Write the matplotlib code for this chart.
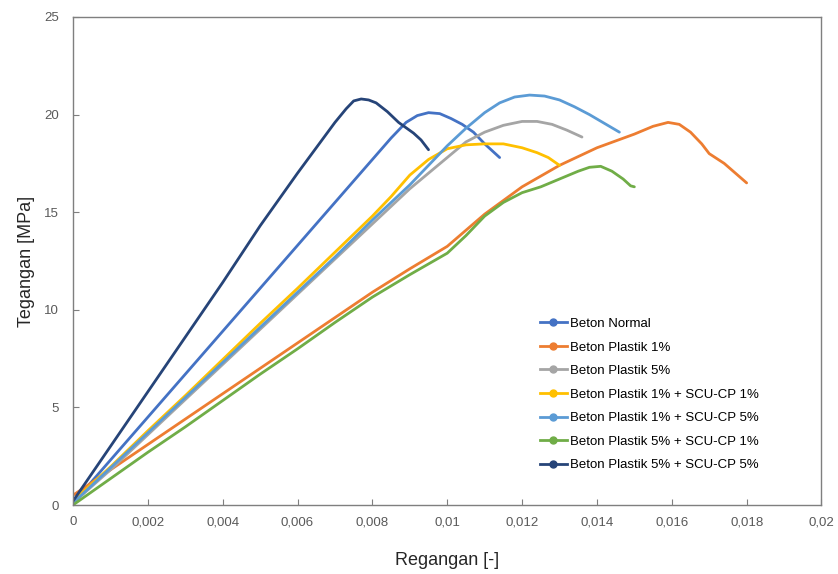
import numpy as np
import matplotlib.pyplot as plt
from matplotlib.ticker import FuncFormatter, MultipleLocator

plt.rcParams['font.family'] = ['Liberation Sans', 'DejaVu Sans']

# Beton Normal
x_normal = [0, 0.001, 0.002, 0.003, 0.004, 0.005, 0.006, 0.007, 0.008, 0.0085,
            0.0089, 0.0092, 0.0095, 0.0098, 0.0101, 0.0104, 0.0107, 0.011, 0.0114]
y_normal = [0.1, 2.3, 4.5, 6.7, 8.9, 11.1, 13.3, 15.5, 17.7, 18.8,
            19.6, 19.95, 20.1, 20.05, 19.8, 19.5, 19.1, 18.5, 17.8]

# Beton Plastik 1%
x_p1 = [0, 0.001, 0.002, 0.003, 0.004, 0.005, 0.006, 0.007, 0.008, 0.009, 0.01,
        0.011, 0.012, 0.013, 0.014, 0.015, 0.0155, 0.0159, 0.0162, 0.0165, 0.0168,
        0.017, 0.0174, 0.0177, 0.018]
y_p1 = [0.5, 1.8, 3.1, 4.4, 5.7, 7.0, 8.3, 9.6, 10.9, 12.1, 13.25,
        14.9, 16.3, 17.4, 18.3, 19.0, 19.4, 19.6, 19.5, 19.1, 18.5,
        18.0, 17.5, 17.0, 16.5]

# Beton Plastik 5%
x_p5 = [0, 0.001, 0.002, 0.003, 0.004, 0.005, 0.006, 0.007, 0.008, 0.009, 0.0095,
        0.01, 0.0105, 0.011, 0.0115, 0.012, 0.0124, 0.0128, 0.0132, 0.0136]
y_p5 = [0.1, 1.8, 3.6, 5.4, 7.2, 9.0, 10.8, 12.6, 14.4, 16.2, 17.0,
        17.8, 18.6, 19.1, 19.45, 19.65, 19.65, 19.5, 19.2, 18.85]

# Beton Plastik 1% + SCU-CP 1%
x_p1c1 = [0, 0.001, 0.002, 0.003, 0.004, 0.005, 0.006, 0.007, 0.008, 0.0085, 0.009,
          0.0095, 0.01, 0.0105, 0.011, 0.0115, 0.012, 0.0124, 0.0127, 0.013]
y_p1c1 = [0.2, 1.95, 3.8, 5.6, 7.45, 9.3, 11.1, 12.95, 14.8, 15.8, 16.9,
          17.7, 18.25, 18.45, 18.5, 18.5, 18.3, 18.05, 17.8, 17.4]

# Beton Plastik 1% + SCU-CP 5%
x_p1c5 = [0, 0.001, 0.002, 0.003, 0.004, 0.005, 0.006, 0.007, 0.008, 0.009, 0.0095,
          0.01, 0.0105, 0.011, 0.0114, 0.0118, 0.0122, 0.0126, 0.013, 0.0134, 0.0138,
          0.0142, 0.0146]
y_p1c5 = [0.1, 1.9, 3.7, 5.5, 7.3, 9.1, 10.9, 12.7, 14.6, 16.4, 17.4,
          18.4, 19.3, 20.1, 20.6, 20.9, 21.0, 20.95, 20.75, 20.4, 20.0,
          19.55, 19.1]

# Beton Plastik 5% + SCU-CP 1%
x_p5c1 = [0, 0.001, 0.002, 0.003, 0.004, 0.005, 0.006, 0.007, 0.008, 0.009, 0.01,
          0.0105, 0.011, 0.0115, 0.012, 0.0125, 0.013, 0.0135, 0.0138, 0.0141,
          0.0144, 0.0147, 0.0149, 0.015]
y_p5c1 = [0.0, 1.35, 2.7, 4.0, 5.35, 6.7, 8.0, 9.35, 10.65, 11.8, 12.9,
          13.8, 14.8, 15.5, 16.0, 16.3, 16.7, 17.1, 17.3, 17.35,
          17.1, 16.7, 16.35, 16.3]

# Beton Plastik 5% + SCU-CP 5%
x_p5c5 = [0, 0.0005, 0.001, 0.002, 0.003, 0.004, 0.005, 0.006, 0.0065, 0.007,
          0.0073, 0.0075, 0.0077, 0.0079, 0.0081, 0.0084, 0.0087, 0.0091, 0.0093, 0.0095]
y_p5c5 = [0.2, 1.6, 3.0, 5.8, 8.6, 11.4, 14.3, 17.0, 18.3, 19.6,
          20.3, 20.7, 20.8, 20.75, 20.6, 20.15, 19.6, 19.05, 18.7, 18.2]

series = [
    (x_normal, y_normal, "Beton Normal", "#4472C4"),
    (x_p1, y_p1, "Beton Plastik 1%", "#ED7D31"),
    (x_p5, y_p5, "Beton Plastik 5%", "#A5A5A5"),
    (x_p1c1, y_p1c1, "Beton Plastik 1% + SCU-CP 1%", "#FFC000"),
    (x_p1c5, y_p1c5, "Beton Plastik 1% + SCU-CP 5%", "#5B9BD5"),
    (x_p5c1, y_p5c1, "Beton Plastik 5% + SCU-CP 1%", "#70AD47"),
    (x_p5c5, y_p5c5, "Beton Plastik 5% + SCU-CP 5%", "#264478"),
]

fig = plt.figure(figsize=(8.38, 5.74), dpi=100)
ax = fig.add_axes([0.0871, 0.1202, 0.8932, 0.8502])

handles = []
for x, y, name, col in series:
    ax.plot(x, y, color=col, lw=2.0, solid_capstyle='round')
    h, = ax.plot([], [], color=col, lw=2, marker='o', markersize=5, label=name)
    handles.append(h)

ax.set_xlim(0, 0.02)
ax.set_ylim(0, 25)
ax.xaxis.set_major_locator(MultipleLocator(0.002))
ax.yaxis.set_major_locator(MultipleLocator(5))
ax.xaxis.set_major_formatter(FuncFormatter(lambda v, p: ('%g' % round(v, 4)).replace('.', ',')))

for s in ax.spines.values():
    s.set_color('#7f7f7f')
    s.set_linewidth(1)
ax.tick_params(axis='both', direction='in', length=4, color='#7f7f7f',
               labelsize=9.5, labelcolor='#595959')
ax.tick_params(axis='x', pad=8)
ax.tick_params(axis='y', pad=10)

ax.set_xlabel("Regangan [-]", fontsize=13, color='#262626', labelpad=17)
ax.set_ylabel("Tegangan [MPa]", fontsize=13, color='#262626', labelpad=7)

ax.legend(handles=handles, loc='upper left', bbox_to_anchor=(0.636, 0.458),
          bbox_transform=fig.transFigure, frameon=False, fontsize=9.5,
          handlelength=2.1, handletextpad=0.2, labelspacing=0.86, borderpad=0)

fig.savefig("out.png", dpi=100)
